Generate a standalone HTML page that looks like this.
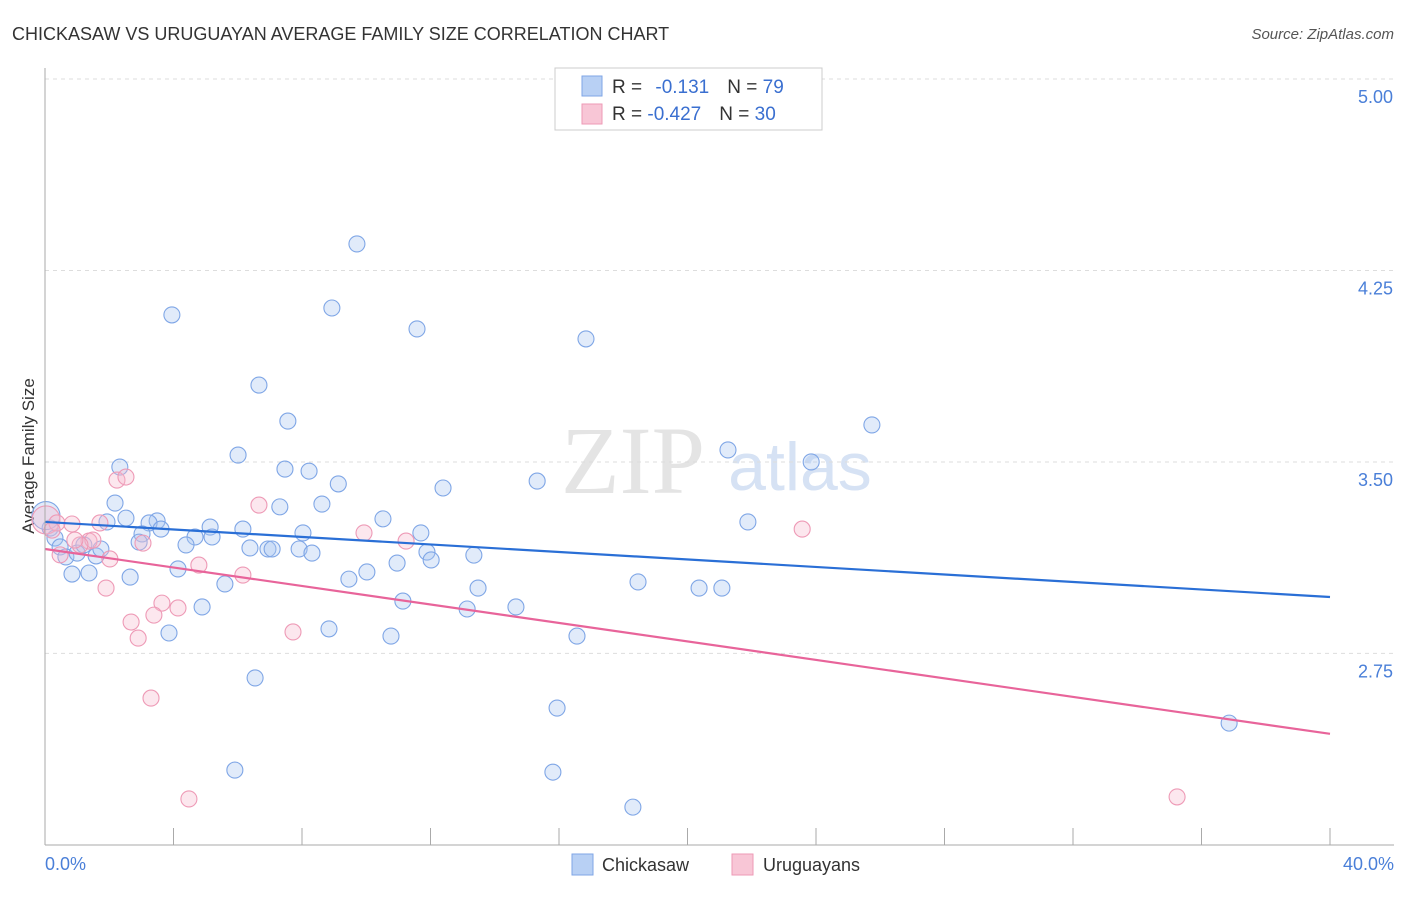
<!DOCTYPE html>
<html><head><meta charset="utf-8"><style>
body{margin:0;background:#fff;font-family:"Liberation Sans",sans-serif}
</style></head><body>
<svg id="c" width="1406" height="892" xmlns="http://www.w3.org/2000/svg">
<text x="12" y="40" font-size="18" fill="#333">CHICKASAW VS URUGUAYAN AVERAGE FAMILY SIZE CORRELATION CHART</text>
<text x="1394" y="39" font-size="15" fill="#555" text-anchor="end" font-style="italic">Source: ZipAtlas.com</text>
<text x="633" y="493" font-size="96" fill="#e4e4e4" font-family="Liberation Serif" text-anchor="middle">ZIP</text>
<text x="800" y="490" font-size="68" fill="#d6e2f4" text-anchor="middle">atlas</text>
<text transform="translate(34,456) rotate(-90)" font-size="17" fill="#333" text-anchor="middle">Average Family Size</text>
<g id="grid"></g><g id="pts"></g><g id="trend"></g>
<line x1="45" y1="68" x2="45" y2="845" stroke="#aaa"/>
<line x1="45" y1="845" x2="1394" y2="845" stroke="#aaa"/>
<text x="45" y="870" font-size="18" fill="#4a7fd8">0.0%</text>
<text x="1394" y="870" font-size="18" fill="#4a7fd8" text-anchor="end">40.0%</text>
<g>
<rect x="555" y="68" width="267" height="62" fill="#fff" stroke="#ccc"/>
<rect x="582" y="76" width="20" height="20" fill="#b8d0f4" stroke="#7fa6e6"/>
<rect x="582" y="104" width="20" height="20" fill="#f8c6d6" stroke="#ee9ab6"/>
<text x="612" y="93" font-size="19" fill="#333">R = <tspan fill="#3a6fd0" dx="8">-0.131</tspan><tspan dx="18" fill="#333">N = </tspan><tspan fill="#3a6fd0">79</tspan></text>
<text x="612" y="120" font-size="19" fill="#333">R = <tspan fill="#3a6fd0">-0.427</tspan><tspan dx="18" fill="#333">N = </tspan><tspan fill="#3a6fd0">30</tspan></text>
</g>
<g>
<rect x="572" y="854" width="21" height="21" fill="#b8d0f4" stroke="#7fa6e6"/>
<text x="602" y="871" font-size="18" fill="#333">Chickasaw</text>
<rect x="732" y="854" width="21" height="21" fill="#f8c6d6" stroke="#ee9ab6"/>
<text x="763" y="871" font-size="18" fill="#333">Uruguayans</text>
</g>
</svg>
<script>
const yTicks=[5.00,4.25,3.50,2.75];
const xTicks=[0,4,8,12,16,20,24,28,32,36,40];
const blueX=[9.71,8.93,3.95,11.58,16.84,6.66,7.56,25.74,6.01,21.26,23.85,2.33,7.47,8.22,9.13,12.39,15.32,2.18,7.31,8.62,1.93,2.52,3.49,3.24,3.61,5.14,6.16,10.52,11.70,21.88,3.02,4.67,5.20,8.03,2.93,4.39,6.38,6.94,7.07,7.91,8.31,11.89,13.35,12.02,10.96,0.84,1.37,2.65,4.14,10.02,9.46,5.60,13.48,18.46,20.36,21.07,4.89,11.14,13.14,14.66,3.86,8.84,10.77,16.56,6.54,15.94,36.86,5.91,15.81,18.30,0.16,0.31,0.47,0.65,1.00,1.59,1.74,1.21,0.03];
const blueY=[4.354,4.103,4.076,4.021,3.982,3.801,3.660,3.645,3.527,3.547,3.500,3.480,3.472,3.464,3.414,3.398,3.425,3.339,3.324,3.335,3.265,3.280,3.269,3.261,3.237,3.245,3.237,3.277,3.222,3.265,3.218,3.206,3.206,3.222,3.186,3.175,3.163,3.159,3.159,3.159,3.143,3.147,3.135,3.116,3.104,3.061,3.065,3.049,3.081,3.069,3.041,3.022,3.006,3.030,3.006,3.006,2.932,2.955,2.924,2.932,2.830,2.846,2.818,2.818,2.654,2.536,2.477,2.293,2.285,2.148,3.241,3.202,3.167,3.128,3.143,3.132,3.159,3.175,3.29];
const pinkX=[0.03,0.37,0.84,1.71,1.37,1.49,1.09,2.24,2.52,6.66,2.02,3.05,9.93,11.24,4.79,6.16,1.90,3.64,4.14,3.39,2.68,2.90,7.72,3.30,4.48,23.57,35.24,0.47,0.93,0.22];
const pinkY=[3.273,3.261,3.257,3.261,3.190,3.194,3.175,3.429,3.441,3.331,3.120,3.182,3.222,3.190,3.096,3.057,3.006,2.947,2.928,2.900,2.873,2.810,2.834,2.575,2.180,3.237,2.188,3.136,3.194,3.233];
const blueTrend=[3.265,2.971];
const pinkTrend=[3.159,2.435];
const NS='http://www.w3.org/2000/svg';
const sx=v=>45+v/40*1285, sy=v=>79+(5-v)*255.3;
function mk(t,a,p){const e=document.createElementNS(NS,t);for(const k in a)e.setAttribute(k,a[k]);p.appendChild(e);return e;}
const grid=document.getElementById('grid');
yTicks.forEach(t=>{
 const l=mk('line',{x1:45,x2:1394,y1:sy(t),y2:sy(t),stroke:'#ddd','stroke-dasharray':'4,4'},grid);
 
 
 const tx=mk('text',{x:1393,y:sy(t)+24,'font-size':18,fill:'#4a7fd8','text-anchor':'end'},grid);
 tx.textContent=t.toFixed(2);
 
 
});
xTicks.forEach(t=>{
 const l=mk('line',{x1:sx(t),x2:sx(t),y1:828,y2:845,stroke:'#aaa'},grid);
 
 
});
const pts=document.getElementById('pts');
blueX.forEach((x,i)=>{
 const c=mk('circle',{cx:sx(x),cy:sy(blueY[i]),r:i==blueX.length-1?14:8,fill:'rgba(170,198,240,0.35)',stroke:'#7fa6e6','stroke-width':1.1},pts);
 
 
});
pinkX.forEach((x,i)=>{
 const c=mk('circle',{cx:sx(x),cy:sy(pinkY[i]),r:i==0?14:8,fill:'rgba(246,186,206,0.35)',stroke:'#ee9ab6','stroke-width':1.1},pts);
 
 
});
const tr=document.getElementById('trend');
const bl=mk('line',{x1:sx(0),x2:sx(40),y1:sy(blueTrend[0]),y2:sy(blueTrend[1]),stroke:'#2a6fd6','stroke-width':2.2},tr);


const pl=mk('line',{x1:sx(0),x2:sx(40),y1:sy(pinkTrend[0]),y2:sy(pinkTrend[1]),stroke:'#e8649a','stroke-width':2.2},tr);


</script>
</body></html>
